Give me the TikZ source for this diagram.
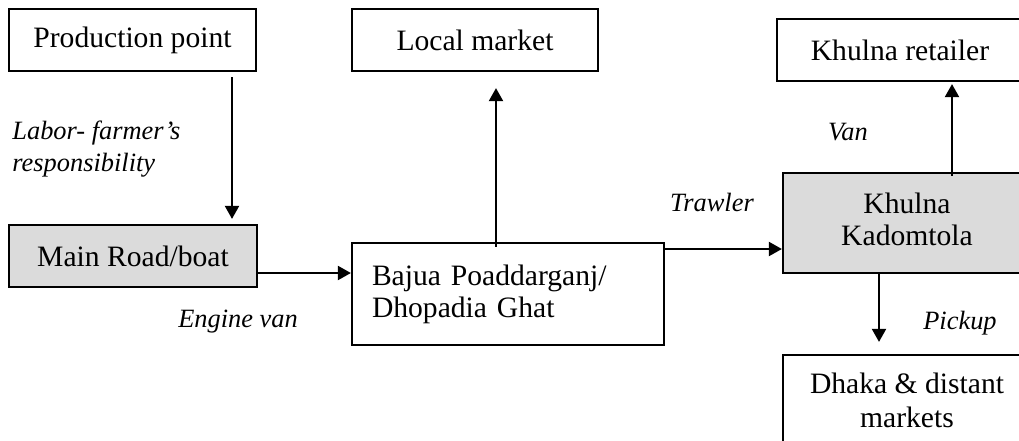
\documentclass[tikz,border=0pt]{standalone}
\usepackage{fontspec}
\setmainfont{Liberation Serif}
\usetikzlibrary{arrows.meta}
\begin{document}
\begin{tikzpicture}[x=0.5pt,y=-0.5pt,
  box/.style={draw=black, line width=1.1pt, inner sep=0pt, align=center,
    font=\fontsize{14.8}{16.5}\selectfont},
  shaded/.style={box, fill=black!14},
  lab/.style={inner sep=0pt, font=\itshape\fontsize{13.2}{16}\selectfont},
  arr/.style={line width=1pt, -{Triangle[length=6.5pt,width=7pt]}}]
\useasboundingbox (0,0) rectangle (1019,440);
\clip (0,0) rectangle (1019,440);
% boxes
\node[box, minimum width=123.5pt, minimum height=31pt] (prod) at (132.5,40) {Production point};
\node[shaded, minimum width=124pt, minimum height=31pt] (main) at (133,256) {Main Road/boat};
\node[box, minimum width=123pt, minimum height=31pt] (local) at (475,40) {Local market};
\node[box, text width=136pt, inner xsep=10pt, align=left, minimum height=51pt,
  font=\fontsize{14.8}{16}\selectfont] (bajua) at (508,294) {Bajua Poaddarganj/\\Dhopadia Ghat};
\node[box, minimum width=123pt, minimum height=31pt] (retail) at (900,50) {Khulna retailer};
\node[shaded, minimum width=124pt, minimum height=50pt,
  font=\fontsize{14.8}{16}\selectfont] (kadom) at (907,223) {\raisebox{2pt}{\begin{tabular}{@{}c@{}}Khulna\\Kadomtola\end{tabular}}};
\node[box, minimum width=124pt, minimum height=45pt,
  font=\fontsize{14.8}{17}\selectfont] (dhaka) at (907,400) {Dhaka \& distant\\markets};
% labels
\node[lab, anchor=west, align=left] (labor) at (12,149) {Labor- farmer's\\responsibility};
\node[lab] (engine) at (238,322) {Engine van};
\node[lab] (trawler) at (712,202) {Trawler};
\node[lab] (van) at (848,132) {Van};
\node[lab] (pickup) at (960,323) {Pickup};
% arrows
\draw[arr, shorten <=2.5pt, shorten >=2.5pt] (232,0 |- prod.south) -- (232,0 |- main.north);
\draw[arr] (main.east |- 0,273) -- (bajua.west |- 0,273);
\draw[arr, shorten <=-2.5pt, shorten >=8pt] (496,0 |- bajua.north) -- (496,0 |- local.south);
\draw[arr] (bajua.east |- 0,249) -- (kadom.west |- 0,249);
\draw[arr, shorten <=-2pt, shorten >=1pt] (952,0 |- kadom.north) -- (952,0 |- retail.south);
\draw[arr, shorten >=6pt] (879,0 |- kadom.south) -- (879,0 |- dhaka.north);
\end{tikzpicture}
\end{document}
